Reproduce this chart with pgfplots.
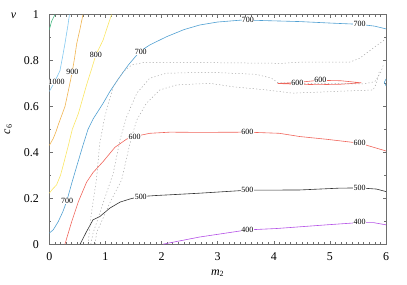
\documentclass[border=0pt]{standalone}
\usepackage{fontspec}
\setmainfont{Liberation Serif}
\usepackage{pgfplots}
\pgfplotsset{compat=1.18}
\definecolor{cgreen}{RGB}{70,185,130}
\definecolor{clblue}{RGB}{130,200,240}
\definecolor{corange}{RGB}{240,180,80}
\definecolor{cyellow}{RGB}{250,230,100}
\definecolor{cblue}{RGB}{80,160,210}
\definecolor{cred}{RGB}{240,100,90}
\definecolor{cblack}{RGB}{50,50,50}
\definecolor{cpurple}{RGB}{180,80,230}
\definecolor{caxis}{RGB}{110,110,110}
\begin{document}
\begin{tikzpicture}
\begin{axis}[
 name=ax,
 scale only axis, width=337bp, height=229.6bp,
 xmin=0,xmax=6,ymin=0,ymax=1,
 xtick={0,1,2,3,4,5,6}, minor x tick num=9,
 ytick={0,0.2,0.4,0.6,0.8,1}, minor y tick num=1,
 tick align=inside, major tick length=3.5bp, minor tick length=2bp,
 axis line style={caxis,line width=0.7pt},
 every tick/.style={caxis,line width=0.5pt},
 tick label style={font=\fontsize{12}{13}\selectfont},
 /pgf/number format/assume math mode=true,
 yticklabel style={xshift=-7bp},
 xticklabel style={yshift=-5bp},
 xlabel={{\itshape m}\textsubscript{2}},
 ylabel={{\itshape c}\textsubscript{6}},
 xlabel style={at={(axis description cs:0.5,-0.1263)},anchor=center,font=\fontsize{12}{13}\selectfont},
 ylabel style={at={(axis description cs:-0.1217,0.5)},anchor=center,font=\fontsize{12}{13}\selectfont},
 every axis plot/.append style={line width=0.6pt},
 clip=true,
]
% 1100
\addplot[cgreen] coordinates {(0,0.933) (0.04,0.97) (0.1,1.0)};
% 1000
\addplot[clblue] coordinates {(0,0.665) (0.08,0.70) (0.19,0.755) (0.24,0.82) (0.28,0.875) (0.33,0.95) (0.36,1.0)};
% 900
\addplot[corange] coordinates {(0,0.43) (0.07,0.46) (0.12,0.49) (0.16,0.52) (0.22,0.56) (0.28,0.60) (0.35,0.68) (0.41,0.752) (0.45,0.81) (0.49,0.875) (0.55,0.94) (0.6,1.0)};
% 800
\addplot[cyellow] coordinates {(0,0.222) (0.06,0.24) (0.13,0.258) (0.2,0.30) (0.25,0.345) (0.34,0.43) (0.41,0.50) (0.52,0.57) (0.665,0.694) (0.75,0.76) (0.83,0.824) (0.96,0.89) (1.04,0.95) (1.11,1.0)};
% 700
\addplot[cblue] coordinates {(0,0.048) (0.07,0.062) (0.16,0.098) (0.24,0.14) (0.31,0.186) (0.40,0.265) (0.49,0.34) (0.6,0.43) (0.69,0.50) (0.78,0.545) (0.96,0.614) (1.08,0.665) (1.23,0.72) (1.41,0.781) (1.61,0.839) (1.79,0.868) (2.09,0.904) (2.4,0.935) (2.68,0.955) (3.0,0.968) (3.45,0.977) (3.87,0.974) (4.46,0.97) (5.05,0.963) (5.53,0.958) (5.8,0.95) (6,0.938)};
\addplot[cblue] coordinates {(6,0.72) (5.97,0.705) (6,0.69)};
% 600
\addplot[cred] coordinates {(0.28,0) (0.40,0.098) (0.52,0.186) (0.665,0.27) (0.78,0.312) (0.96,0.36) (1.17,0.422) (1.38,0.458) (1.52,0.469) (1.79,0.483) (2.15,0.488) (2.68,0.487) (3.53,0.488) (4.1,0.483) (4.46,0.469) (4.94,0.457) (5.53,0.44) (6,0.406)};
\addplot[cred] coordinates {(4.07,0.700) (4.4,0.704) (4.8,0.714) (5.2,0.712) (5.56,0.703) (5.2,0.697) (4.8,0.695) (4.4,0.697) (4.07,0.700)};
% 500
\addplot[cblack] coordinates {(0.55,0) (0.665,0.055) (0.78,0.106) (0.9,0.12) (1.08,0.157) (1.26,0.183) (1.44,0.197) (1.61,0.207) (1.91,0.212) (2.15,0.215) (2.68,0.222) (3.53,0.235) (4.46,0.236) (5.17,0.244) (5.53,0.245) (5.83,0.24) (6,0.229)};
% 400
\addplot[cpurple] coordinates {(2.03,0) (2.68,0.031) (3.53,0.062) (4.05,0.068) (4.94,0.084) (5.53,0.094) (5.77,0.094) (6,0.084)};
% dotted
\addplot[gray!70,line width=0.5pt,dash pattern=on 1.2pt off 2.2pt] coordinates {(0.69,0) (0.75,0.135) (0.84,0.28) (0.9,0.44) (0.99,0.556) (1.14,0.686) (1.32,0.752) (1.47,0.781) (1.67,0.791) (2.8,0.791) (4.16,0.788) (4.46,0.793) (5.35,0.793) (5.53,0.81) (5.77,0.854) (5.97,0.89) (6,0.895)};
\addplot[gray!70,line width=0.5pt,dash pattern=on 1.2pt off 2.2pt] coordinates {(0.74,0) (0.78,0.048) (0.96,0.179) (1.14,0.309) (1.26,0.454) (1.38,0.556) (1.56,0.658) (1.79,0.723) (2.09,0.745) (2.86,0.749) (3.69,0.74) (3.96,0.723) (4.07,0.704) (4.5,0.70) (5.0,0.70) (5.6,0.698) (5.8,0.708) (5.91,0.75) (5.95,0.78)};
\addplot[gray!70,line width=0.5pt,dash pattern=on 1.2pt off 2.2pt] coordinates {(0.82,0) (0.84,0.048) (1.08,0.18) (1.29,0.28) (1.41,0.41) (1.47,0.469) (1.56,0.541) (1.73,0.614) (1.97,0.672) (2.27,0.694) (2.86,0.701) (3.27,0.686) (3.87,0.672) (4.34,0.658) (5.05,0.665) (5.77,0.672) (5.83,0.701) (5.88,0.752)};
% labels
\begin{scope}[every node/.style={font=\fontsize{8}{9}\selectfont,fill=white,inner sep=0.4pt}]
\node at (axis cs:0.13,0.708) {1000};
\node at (axis cs:0.41,0.752) {900};
\node at (axis cs:0.83,0.824) {800};
\node at (axis cs:1.63,0.839) {700};
\node at (axis cs:3.54,0.977) {700};
\node at (axis cs:5.53,0.959) {700};
\node at (axis cs:0.32,0.189) {700};
\node at (axis cs:1.52,0.469) {600};
\node at (axis cs:3.53,0.488) {600};
\node at (axis cs:5.53,0.44) {600};
\node at (axis cs:4.42,0.704) {600};
\node at (axis cs:4.83,0.716) {600};
\node at (axis cs:1.63,0.205) {500};
\node at (axis cs:3.53,0.238) {500};
\node at (axis cs:5.53,0.247) {500};
\node at (axis cs:3.53,0.064) {400};
\node at (axis cs:5.53,0.095) {400};
\end{scope}
\end{axis}
\node[font=\fontsize{12}{13}\selectfont] at ([xshift=-35.8bp,yshift=-1bp]ax.north west) {\itshape ν};
\pgfresetboundingbox
\path[use as bounding box] ([xshift=-49.3bp,yshift=-40.7bp]ax.south west) rectangle ([xshift=21bp,yshift=14.7bp]ax.north east);
\end{tikzpicture}
\end{document}
